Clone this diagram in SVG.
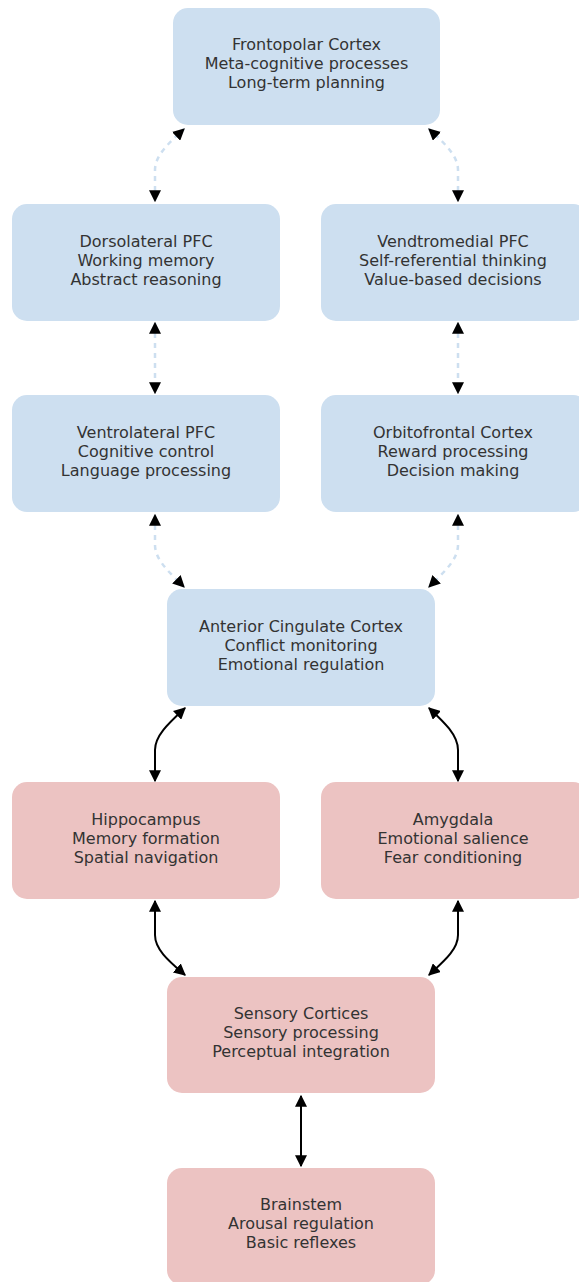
<svg xmlns="http://www.w3.org/2000/svg" width="579" height="1282" viewBox="0 0 579 1282">
<style>
.blue{fill:#cddff0}
.red{fill:#ecc3c2}
text{font-family:"DejaVu Sans","Liberation Sans",sans-serif;font-size:16px;fill:#333;text-anchor:middle}
.dash{fill:none;stroke:#cddff0;stroke-width:2.5;stroke-dasharray:5 5}
.solid{fill:none;stroke:#000;stroke-width:2}
</style>
<defs>
<marker id="ah" viewBox="0 0 10 10" refX="9" refY="5" markerWidth="12" markerHeight="12" markerUnits="userSpaceOnUse" orient="auto-start-reverse">
<path d="M0,0 L10,5 L0,10 z" fill="#000"/>
</marker>
</defs>
<g id="connectors">
<path class="dash" d="M155,201 L155,170 C155,155 170,142 184,129" marker-start="url(#ah)" marker-end="url(#ah)"/>
<path class="dash" d="M458,201 L458,170 C458,155 443,142 429,129" marker-start="url(#ah)" marker-end="url(#ah)"/>
<path class="dash" d="M155,323 L155,393" marker-start="url(#ah)" marker-end="url(#ah)"/>
<path class="dash" d="M458,323 L458,393" marker-start="url(#ah)" marker-end="url(#ah)"/>
<path class="dash" d="M155,515 L155,545 C155,560 170,573 184,587" marker-start="url(#ah)" marker-end="url(#ah)"/>
<path class="dash" d="M458,515 L458,545 C458,560 443,573 429,587" marker-start="url(#ah)" marker-end="url(#ah)"/>
<path class="solid" d="M185,708 C170,722 155,735 155,750 L155,781" marker-start="url(#ah)" marker-end="url(#ah)"/>
<path class="solid" d="M429,708 C444,722 458,735 458,750 L458,781" marker-start="url(#ah)" marker-end="url(#ah)"/>
<path class="solid" d="M155,901 L155,935 C155,950 170,962 185,975" marker-start="url(#ah)" marker-end="url(#ah)"/>
<path class="solid" d="M458,901 L458,935 C458,950 443,962 429,975" marker-start="url(#ah)" marker-end="url(#ah)"/>
<path class="solid" d="M301,1096 L301,1166" marker-start="url(#ah)" marker-end="url(#ah)"/>
</g>
<g id="frontopolar">
<rect class="blue" x="173" y="8" width="267" height="117" rx="15"/>
<text x="306.5" y="50">Frontopolar Cortex</text>
<text x="306.5" y="69">Meta-cognitive processes</text>
<text x="306.5" y="88">Long-term planning</text>
</g>
<g id="dorsolateral">
<rect class="blue" x="12" y="204" width="268" height="117" rx="15"/>
<text x="146" y="246.5">Dorsolateral PFC</text>
<text x="146" y="265.5">Working memory</text>
<text x="146" y="284.5">Abstract reasoning</text>
</g>
<g id="vendtromedial">
<rect class="blue" x="321" y="204" width="267" height="117" rx="15"/>
<text x="453" y="246.5">Vendtromedial PFC</text>
<text x="453" y="265.5">Self-referential thinking</text>
<text x="453" y="284.5">Value-based decisions</text>
</g>
<g id="ventrolateral">
<rect class="blue" x="12" y="395" width="268" height="117" rx="15"/>
<text x="146" y="437.5">Ventrolateral PFC</text>
<text x="146" y="456.5">Cognitive control</text>
<text x="146" y="475.5">Language processing</text>
</g>
<g id="orbitofrontal">
<rect class="blue" x="321" y="395" width="267" height="117" rx="15"/>
<text x="453" y="437.5">Orbitofrontal Cortex</text>
<text x="453" y="456.5">Reward processing</text>
<text x="453" y="475.5">Decision making</text>
</g>
<g id="acc">
<rect class="blue" x="167" y="589" width="268" height="117" rx="15"/>
<text x="301" y="631.5">Anterior Cingulate Cortex</text>
<text x="301" y="650.5">Conflict monitoring</text>
<text x="301" y="669.5">Emotional regulation</text>
</g>
<g id="hippocampus">
<rect class="red" x="12" y="782" width="268" height="117" rx="15"/>
<text x="146" y="824.5">Hippocampus</text>
<text x="146" y="843.5">Memory formation</text>
<text x="146" y="862.5">Spatial navigation</text>
</g>
<g id="amygdala">
<rect class="red" x="321" y="782" width="267" height="117" rx="15"/>
<text x="453" y="824.5">Amygdala</text>
<text x="453" y="843.5">Emotional salience</text>
<text x="453" y="862.5">Fear conditioning</text>
</g>
<g id="sensory">
<rect class="red" x="167" y="977" width="268" height="116" rx="15"/>
<text x="301" y="1018.5">Sensory Cortices</text>
<text x="301" y="1037.5">Sensory processing</text>
<text x="301" y="1056.5">Perceptual integration</text>
</g>
<g id="brainstem">
<rect class="red" x="167" y="1168" width="268" height="117" rx="15"/>
<text x="301" y="1209.5">Brainstem</text>
<text x="301" y="1228.5">Arousal regulation</text>
<text x="301" y="1247.5">Basic reflexes</text>
</g>
</svg>
